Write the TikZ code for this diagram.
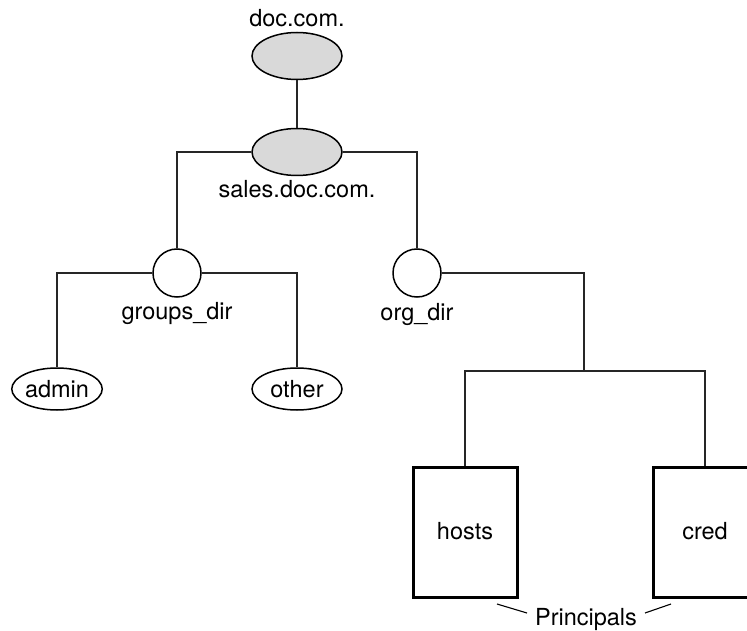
\documentclass[tikz,border=0pt]{standalone}
\usepackage{fontspec}
\setmainfont{TeX Gyre Heros}
\usetikzlibrary{shapes.geometric}
\definecolor{shade}{HTML}{D9D9D9}
\tikzset{
  conn/.style={line width=1.5pt, draw=black!85},
  domnode/.style={ellipse, draw, line width=1.5pt, fill=shade, minimum width=90pt, minimum height=47pt, inner sep=0pt},
  dirnode/.style={circle, draw, line width=1.5pt, minimum size=48pt, inner sep=0pt},
  leafnode/.style={ellipse, draw, line width=1.5pt, minimum width=90pt, minimum height=42pt, inner sep=0pt},
  tablebox/.style={rectangle, draw, line width=3pt, minimum width=104pt, minimum height=130pt, inner sep=0pt},
  lbl/.style={anchor=base, inner sep=0pt}
}
\begin{document}
\begin{tikzpicture}[x=1pt, y=-1pt, font=\fontsize{23.5}{28}\selectfont]
\clip (0,0) rectangle (747,631);
\fill[white] (0,0) rectangle (747,631);
% nodes
\node[domnode] (doc) at (297,56) {};
\node[domnode] (sales) at (297,152) {};
\node[dirnode] (groups) at (177,273) {};
\node[dirnode] (org) at (417,273) {};
\node[leafnode] (admin) at (57,389) {admin};
\node[leafnode] (other) at (297,389) {other};
\node[tablebox] (hosts) at (465,532) {};
\node[tablebox] (cred) at (705,532) {};
% labels
\node[lbl] (doclbl) at (297,27) {doc.com.};
\node[lbl] (saleslbl) at (297,198) {sales.doc.com.};
\node[lbl] (groupslbl) at (177,319) {groups\_dir};
\node[lbl] (orglbl) at (417,320) {org\_dir};
\node[lbl] (hostslbl) at (465,539) {hosts};
\node[lbl] (credlbl) at (705,539) {cred};
\node[lbl] (princ) at (586,625) {Principals};
% connectors
\coordinate (j) at (584,371);
\coordinate (pl1) at (497,604);
\coordinate (pl2) at (527,613);
\coordinate (pr1) at (645,613);
\coordinate (pr2) at (671,604);
\draw[conn] (doc.south) -- (sales.north);
\draw[conn] (sales.west) -| (groups.north);
\draw[conn] (sales.east) -| (org.north);
\draw[conn] (groups.west) -| (admin.north);
\draw[conn] (groups.east) -| (other.north);
\draw[conn] (org.east) -| (j);
\draw[conn] (hosts.north) |- (j) -| (cred.north);
\draw[line width=1.1pt] (pl1) -- (pl2);
\draw[line width=1.1pt] (pr1) -- (pr2);
\end{tikzpicture}
\end{document}
